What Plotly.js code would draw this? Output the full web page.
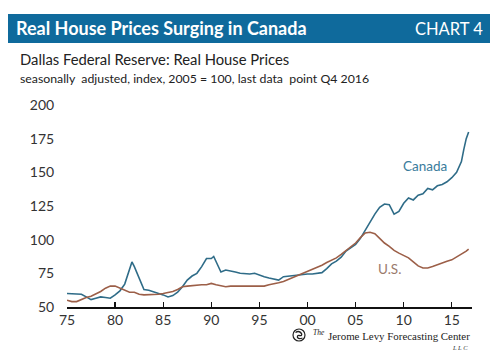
<!DOCTYPE html>
<html>
<head>
<meta charset="utf-8">
<script src="https://cdn.plot.ly/plotly-3.0.1.min.js"></script>
<style>
  html, body { margin: 0; padding: 0; background: #fff; }
  #chart { width: 501px; height: 361px; }
</style>
</head>
<body>
<div id="chart"></div>
<script>
// ---- data ----
const canadaYears = [1975.0,1975.5,1976.0,1976.5,1977.0,1977.5,1978.0,1978.5,1979.0,1979.5,
  1980.0,1980.5,1981.0,1981.5,1981.75,1982.0,1982.5,1983.0,1983.5,1984.0,1984.5,
  1985.0,1985.5,1986.0,1986.5,1987.0,1987.5,1988.0,1988.5,1989.0,1989.5,
  1990.0,1990.25,1990.5,1991.0,1991.5,1992.0,1992.5,1993.0,1993.5,1994.0,1994.5,
  1995.0,1995.5,1996.0,1996.5,1997.0,1997.5,1998.0,1998.5,1999.0,1999.5,
  2000.0,2000.5,2001.0,2001.5,2002.0,2002.5,2003.0,2003.5,2004.0,2004.5,
  2005.0,2005.5,2006.0,2006.5,2007.0,2007.5,2008.0,2008.5,2009.0,2009.5,
  2010.0,2010.5,2011.0,2011.5,2012.0,2012.5,2013.0,2013.5,2014.0,2014.5,
  2015.0,2015.5,2016.0,2016.25,2016.5,2016.75];
const canadaValues = [60,60,60,59.5,57.5,55.5,56.5,57.5,57,56.5,
  59,62,67,78,83.5,80,72,63,62.5,61.5,60,
  59,57.5,58.5,61,65,70,73,75,80,86,
  86,87.5,84,76,77.5,77,76,75,74.5,74.5,75,
  73.5,72.5,71.5,70.5,70,72.5,73,73,73.5,74.5,
  74.5,74.5,75,75.5,78.5,82,84,87,91.5,94,
  96.5,101,107,114,119,124,126.5,126,119,121,
  127,131,129.5,133,134,138,137,140,141,143,
  146,150,158,167,175,180];

const usYears = [1975.0,1975.5,1976.0,1976.5,1977.0,1977.5,1978.0,1978.5,1979.0,1979.5,
  1980.0,1980.5,1981.0,1981.5,1982.0,1982.5,1983.0,1983.5,1984.0,1984.5,
  1985.0,1985.5,1986.0,1986.5,1987.0,1987.5,1988.0,1988.5,1989.0,1989.5,
  1990.0,1990.5,1991.0,1991.5,1992.0,1992.5,1993.0,1993.5,1994.0,1994.5,
  1995.0,1995.5,1996.0,1996.5,1997.0,1997.5,1998.0,1998.5,1999.0,1999.5,
  2000.0,2000.5,2001.0,2001.5,2002.0,2002.5,2003.0,2003.5,2004.0,2004.5,
  2005.0,2005.5,2006.0,2006.5,2007.0,2007.5,2008.0,2008.5,2009.0,2009.5,
  2010.0,2010.5,2011.0,2011.5,2012.0,2012.5,2013.0,2013.5,2014.0,2014.5,
  2015.0,2015.5,2016.0,2016.5,2016.75];
const usValues = [55,54,54,55.7,57,58,59.5,61.5,64,65.5,
  65.5,64,62,61,61,59.5,59,59,59,59.5,
  60,60.5,61.5,63,65,65.5,66,66,66.5,66.5,
  67.5,66.5,65.5,65,65.5,65.5,65.5,65.5,65.5,65.5,
  65,65.5,66.5,67,68,69,70.5,72,73.5,75,
  76.5,78,79,81,83,84.5,86.5,89,92,95,
  97.5,101.5,105,105.5,104.5,101,97.5,95,92,90,
  88,86.5,83.5,80.5,79,79,80,81.5,82.5,84,
  85,87,89,91.5,93];

const xTickVals = [1975,1980,1985,1990,1995,2000,2005,2010,2015];
const xTickText = ['75','80','85','90','95','00','05','10','15'];
const yTickVals = [50,75,100,125,150,175,200];

const titleText = 'Real House Prices Surging in Canada';
const chartLabel = 'CHART 4';
const subtitle1 = 'Dallas Federal Reserve: Real House Prices';
const subtitle2 = 'seasonally  adjusted, index, 2005 = 100, last data  point Q4 2016';
const footerThe = 'The';
const footerName = 'Jerome Levy Forecasting Center';
const footerLLC = 'L L C';

// ---- chart ----
const canadaColor = '#2f6c88';
const usColor = '#9c5f48';
const sans = 'Lato, "Open Sans", sans-serif';
const serif = '"Liberation Serif", "DejaVu Serif", serif';

const traces = [
  { x: canadaYears, y: canadaValues, type: 'scatter', mode: 'lines', name: 'Canada',
    line: { color: canadaColor, width: 1.6 }, hoverinfo: 'skip' },
  { x: usYears, y: usValues, type: 'scatter', mode: 'lines', name: 'U.S.',
    line: { color: usColor, width: 1.6 }, hoverinfo: 'skip' }
];

const L = 67, R = 472, T = 105, B = 307;
const px = v => (v - L) / (R - L);
const py = v => (B - v) / (B - T);

const layout = {
  width: 501, height: 361,
  margin: { l: L, r: 501 - R, t: T, b: 361 - B, pad: 0 },
  paper_bgcolor: '#ffffff', plot_bgcolor: '#ffffff',
  showlegend: false,
  title: {
    text: '<b>' + titleText + '</b>',
    x: 16 / 501, xanchor: 'left', xref: 'container',
    y: 1 - 29 / 361, yanchor: 'middle', yref: 'container',
    font: { family: sans, size: 18, color: '#ffffff' }
  },
  xaxis: {
    range: [1975, 2017.1], tickvals: xTickVals, ticktext: xTickText,
    showgrid: false, zeroline: false, showline: true, linecolor: '#111', linewidth: 1.5,
    ticks: 'inside', ticklen: 5, tickwidth: 1.3, tickcolor: '#111',
    tickfont: { family: sans, size: 14, color: '#333' }, fixedrange: true
  },
  yaxis: {
    range: [50, 200], tickvals: yTickVals,
    showgrid: false, zeroline: false, showline: false,
    ticks: 'outside', ticklen: 9, tickcolor: 'rgba(0,0,0,0)',
    tickfont: { family: sans, size: 14, color: '#333' }, fixedrange: true
  },
  shapes: [
    { type: 'rect', xref: 'paper', yref: 'paper', layer: 'below',
      x0: px(8), x1: px(490), y0: py(43), y1: py(14),
      fillcolor: '#0f6a9c', line: { width: 0 } },
    { type: 'circle', xref: 'paper', yref: 'paper', xsizemode: 'pixel', ysizemode: 'pixel',
      xanchor: px(299), yanchor: py(335), x0: -6, x1: 6, y0: -6, y1: 6,
      line: { color: '#222', width: 1.2 } },
    { type: 'path', xref: 'paper', yref: 'paper', xsizemode: 'pixel', ysizemode: 'pixel',
      xanchor: px(299), yanchor: py(335),
      path: 'M -3.5,2.5 Q 0,5 2.5,1.5 Q 3.5,-1 0.5,-0.5 Q -2,0 -1.5,-2.5 Q 0,-4.5 3.5,-3',
      line: { color: '#222', width: 1.3 } }
  ],
  annotations: [
    { text: chartLabel, xref: 'paper', yref: 'paper', x: px(485), y: py(29),
      xanchor: 'right', yanchor: 'middle', showarrow: false,
      font: { family: sans, size: 16.5, color: '#ffffff' } },
    { text: subtitle1, xref: 'paper', yref: 'paper', x: px(18), y: py(59),
      xanchor: 'left', yanchor: 'middle', showarrow: false,
      font: { family: sans, size: 14.8, color: '#222' } },
    { text: subtitle2, xref: 'paper', yref: 'paper', x: px(18), y: py(78),
      xanchor: 'left', yanchor: 'middle', showarrow: false,
      font: { family: sans, size: 12.3, color: '#222' } },
    { text: 'Canada', xref: 'paper', yref: 'paper', x: px(425), y: py(166),
      xanchor: 'center', yanchor: 'middle', showarrow: false,
      font: { family: sans, size: 13.5, color: '#3a7c9c' } },
    { text: 'U.S.', xref: 'paper', yref: 'paper', x: px(389), y: py(269),
      xanchor: 'center', yanchor: 'middle', showarrow: false,
      font: { family: sans, size: 13.5, color: '#9a7a6c' } },
    { text: '<i>' + footerThe + '</i>', xref: 'paper', yref: 'paper',
      x: px(311), y: py(332), xanchor: 'left', yanchor: 'middle', showarrow: false,
      font: { family: serif, size: 7.5, color: '#222' } },
    { text: footerName, xref: 'paper', yref: 'paper',
      x: px(472), y: py(336), xanchor: 'right', yanchor: 'middle', showarrow: false,
      font: { family: serif, size: 10.9, color: '#222' } },
    { text: '<i>' + footerLLC + '</i>', xref: 'paper', yref: 'paper',
      x: px(470), y: py(347), xanchor: 'right', yanchor: 'middle', showarrow: false,
      font: { family: serif, size: 6.5, color: '#333' } }
  ]
};

Plotly.newPlot('chart', traces, layout, { staticPlot: true, displayModeBar: false });
</script>
</body>
</html>
